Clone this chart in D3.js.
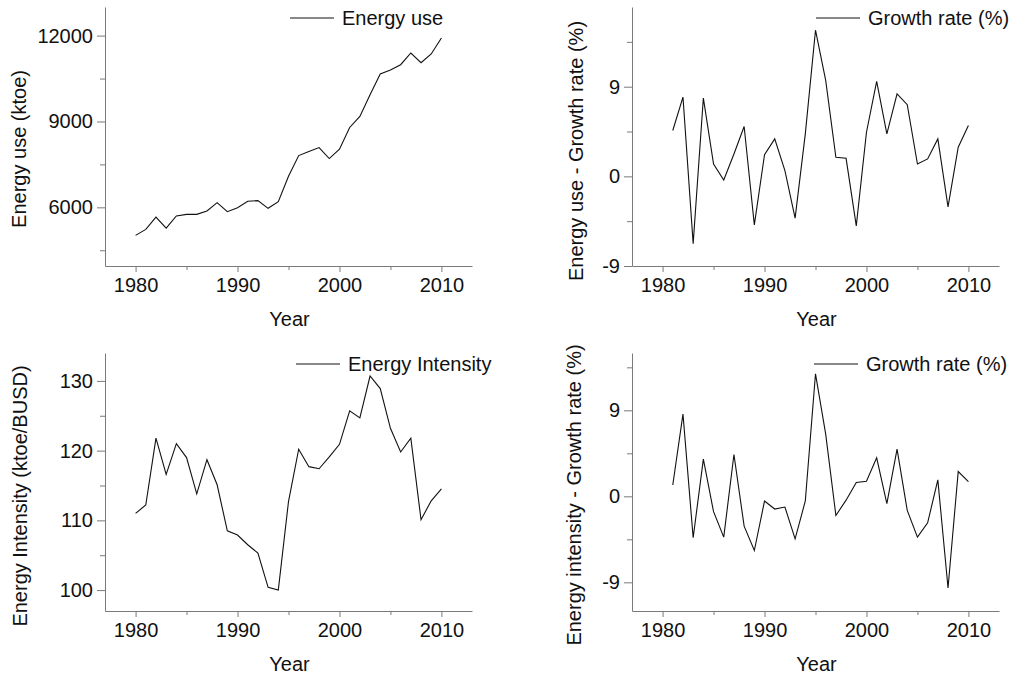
<!DOCTYPE html>
<html>
<head>
<meta charset="utf-8">
<script src="https://cdn.jsdelivr.net/npm/d3@7"></script>
<style>
  html, body { margin: 0; padding: 0; background: #fff; }
  svg { display: block; }
  text { font-family: "Liberation Sans", Arial, sans-serif; fill: #111; }
</style>
</head>
<body>
<svg id="chart" width="1012" height="678"></svg>
<script>
// ---------- data ----------
const years = [1980,1981,1982,1983,1984,1985,1986,1987,1988,1989,1990,1991,1992,1993,1994,1995,1996,1997,1998,1999,2000,2001,2002,2003,2004,2005,2006,2007,2008,2009,2010];
const growthYears = years.slice(1);

const energyUse = [5020,5230,5660,5276,5697,5755,5755,5872,6163,5848,5988,6210,6233,5965,6198,7085,7809,7949,8089,7704,8031,8790,9175,9934,10658,10798,10984,11393,11054,11358,11918];
const energyUseGrowth = [4.6,7.96,-6.75,7.86,1.24,-0.37,2.25,5.0,-4.87,2.18,3.76,0.57,-4.2,4.26,14.67,9.64,1.91,1.81,-4.97,4.43,9.54,4.26,8.29,7.19,1.24,1.75,3.76,-3.06,2.92,5.1];
const energyIntensity = [111.0,112.2,121.8,116.6,121.0,119.0,113.8,118.7,115.1,108.5,107.9,106.5,105.3,100.4,100.0,112.7,120.2,117.7,117.4,119.1,120.9,125.7,124.7,130.7,128.9,123.2,119.8,121.8,110.1,112.8,114.5];
const intensityGrowth = [1.19,8.61,-4.34,3.89,-1.61,-4.27,4.38,-3.12,-5.67,-0.49,-1.33,-1.12,-4.45,-0.49,12.82,6.51,-2.0,-0.4,1.44,1.58,4.03,-0.77,4.94,-1.47,-4.27,-2.77,1.72,-9.59,2.59,1.54];

const xTicks = [1980, 1990, 2000, 2010];
const xMinorTicks = [1985, 1995, 2005];
const xDomain = [1977, 2013];

const useTicks = [6000, 9000, 12000];
const useMinor = [4500, 7500, 10500];
const intensityTicks = [100, 110, 120, 130];
const intensityMinor = [105, 115, 125];
const growthTicks = [-9, 0, 9];
const growthMinor = [-4.5, 4.5, 13.5];

// ---------- layout ----------
const svg = d3.select("#chart");
const FS = 20;

const panels = [
  { xs: years, ys: energyUse, left: 105, right: 472, top: 7, bottom: 266,
    yDomain: [3950, 13000], yTicks: useTicks, yMinor: useMinor,
    yLabel: "Energy use (ktoe)", yLabelX: 19, yLabelY: 149,
    legend: "Energy use", legX: 290 },
  { xs: growthYears, ys: energyUseGrowth, left: 632, right: 999, top: 7, bottom: 266,
    yDomain: [-9, 17], yTicks: growthTicks, yMinor: growthMinor,
    yLabel: "Energy use - Growth rate (%)", yLabelX: 576, yLabelY: 151,
    legend: "Growth rate (%)", legX: 816 },
  { xs: years, ys: energyIntensity, left: 105, right: 472, top: 353, bottom: 611,
    yDomain: [97, 134], yTicks: intensityTicks, yMinor: intensityMinor,
    yLabel: "Energy Intensity (ktoe/BUSD)", yLabelX: 20, yLabelY: 496,
    legend: "Energy Intensity", legX: 296 },
  { xs: growthYears, ys: intensityGrowth, left: 632, right: 999, top: 353, bottom: 611,
    yDomain: [-12, 15], yTicks: growthTicks, yMinor: growthMinor,
    yLabel: "Energy intensity - Growth rate (%)", yLabelX: 574, yLabelY: 495,
    legend: "Growth rate (%)", legX: 814 }
];

const axisColor = "#7a7a7a";

panels.forEach(p => {
  const x = d3.scaleLinear().domain(xDomain).range([p.left, p.right]);
  const y = d3.scaleLinear().domain(p.yDomain).range([p.bottom, p.top]);
  const g = svg.append("g");

  // minor ticks
  const yMinor = p.yMinor.filter(v => v >= p.yDomain[0] && v <= p.yDomain[1]);
  g.append("g").attr("transform", `translate(${p.left},0)`)
    .call(d3.axisLeft(y).tickValues(yMinor).tickSize(5).tickSizeOuter(0).tickFormat(""))
    .call(a => a.select(".domain").remove());
  g.append("g").attr("transform", `translate(0,${p.bottom})`)
    .call(d3.axisBottom(x).tickValues(xMinorTicks).tickSize(4).tickSizeOuter(0).tickFormat(""))
    .call(a => a.select(".domain").remove());

  // major axes
  const ya = g.append("g").attr("transform", `translate(${p.left},0)`)
    .call(d3.axisLeft(y).tickValues(p.yTicks).tickSize(8).tickSizeOuter(0).tickPadding(4)
      .tickFormat(d => String(d)));
  const xa = g.append("g").attr("transform", `translate(0,${p.bottom})`)
    .call(d3.axisBottom(x).tickValues(xTicks).tickSize(6).tickSizeOuter(0).tickPadding(6)
      .tickFormat(d => String(d)));

  [ya, xa].forEach(a => {
    a.selectAll("path, line").attr("stroke", axisColor).attr("stroke-width", 1);
    a.selectAll("text").attr("font-size", FS).attr("font-family", "Liberation Sans, Arial, sans-serif").attr("fill", "#111");
  });
  g.selectAll("line").attr("stroke", axisColor);

  // series line
  const line = d3.line().x((d, i) => x(p.xs[i])).y(d => y(d));
  g.append("path").datum(p.ys)
    .attr("d", line)
    .attr("fill", "none")
    .attr("stroke", "#111")
    .attr("stroke-width", 1.1)
    .attr("stroke-linejoin", "miter");

  // axis titles
  g.append("text")
    .attr("transform", `translate(${p.yLabelX},${p.yLabelY}) rotate(-90)`)
    .attr("text-anchor", "middle").attr("dominant-baseline", "central")
    .attr("font-size", FS).text(p.yLabel);
  g.append("text")
    .attr("x", (p.left + p.right) / 2 + 1).attr("y", p.bottom + 60)
    .attr("text-anchor", "middle").attr("font-size", FS).text("Year");

  // legend
  const ly = p.top + 11;
  g.append("line").attr("x1", p.legX).attr("x2", p.legX + 44)
    .attr("y1", ly).attr("y2", ly).attr("stroke", "#111").attr("stroke-width", 1);
  g.append("text").attr("x", p.legX + 52).attr("y", ly)
    .attr("dominant-baseline", "central").attr("font-size", FS).text(p.legend);
});
</script>
</body>
</html>
